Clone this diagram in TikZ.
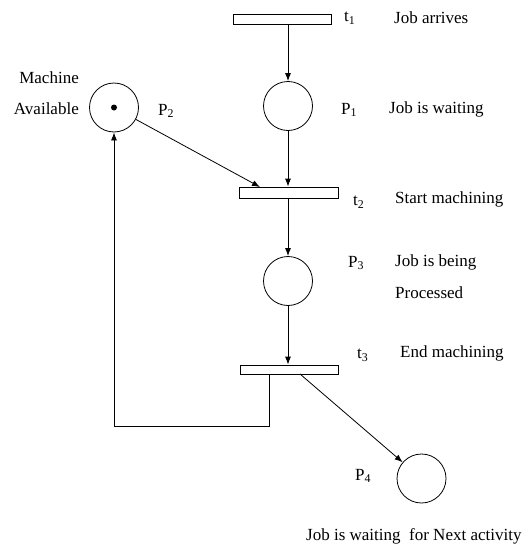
\documentclass[tikz,border=0pt]{standalone}
\usepackage{fontspec}
\setmainfont{Liberation Serif}
\usetikzlibrary{arrows.meta}
\begin{document}
\begin{tikzpicture}[x=1pt,y=-1pt,
  place/.style={draw,circle,minimum size=49pt,inner sep=0pt,line width=0.8pt},
  trans/.style={draw,rectangle,inner sep=0pt,minimum width=98pt,minimum height=10pt,line width=0.8pt},
  arr/.style={line width=0.8pt,-{Latex[length=8pt,width=6pt]}},
  lbl/.style={anchor=west,inner sep=0pt,font=\fontsize{17}{19}\selectfont}]
\useasboundingbox (0,0) rectangle (526,546);
% transitions
\node[trans] (t1) at (282,19) {};
\node[trans,minimum width=99pt,minimum height=11pt] (t2) at (288.5,192.5) {};
\node[trans,minimum height=9pt] (t3) at (289,369.5) {};
% places
\node[place] (p1) at (288,106) {};
\node[place] (p2) at (114,107.5) {};
\node[place] (p3) at (288,281) {};
\node[place] (p4) at (421.5,478.5) {};
\node[circle,fill,inner sep=0pt,minimum size=6pt] (tok) at (p2.center) {};
% connector end points
\coordinate (t2in) at (260,187);
\coordinate (t3back) at (269,374);
\coordinate (t3fwd) at (300,374);
\coordinate (ret) at (114,426);
% arcs
\draw[arr] (t1.south -| p1) -- (p1);
\draw[arr] (p1) -- (t2.north -| p1);
\draw[arr] (p2) -- (t2in);
\draw[arr] (t2.south -| p3) -- (p3);
\draw[arr] (p3) -- (t3.north -| p3);
\draw[arr] (t3back) -- (t3back |- ret) -- (ret) -- (p2);
\draw[arr] (t3fwd) -- (p4);
% labels
\node[lbl] (lt1) at (344,18) {t\textsubscript{1}};
\node[lbl] (ljob1) at (394,18) {Job arrives};
\node[lbl] (lp1) at (341,110) {P\textsubscript{1}};
\node[lbl] (ljob2) at (389,109) {Job is waiting};
\node[lbl,anchor=east] (lmach) at (79,78) {Machine};
\node[lbl,anchor=east] (lavail) at (79,109) {Available};
\node[lbl] (lp2) at (158,111) {P\textsubscript{2}};
\node[lbl] (lt2) at (353,202) {t\textsubscript{2}};
\node[lbl] (ljob3) at (395,199) {Start machining};
\node[lbl] (lp3) at (348,263) {P\textsubscript{3}};
\node[lbl] (ljob4) at (395,262) {Job is being};
\node[lbl] (ljob5) at (395,293) {Processed};
\node[lbl] (lt3) at (357,355) {t\textsubscript{3}};
\node[lbl] (ljob6) at (400,353) {End machining};
\node[lbl] (lp4) at (355,476) {P\textsubscript{4}};
\node[lbl] (ljob7) at (306,536) {Job is waiting\ \ for Next activity};
\end{tikzpicture}
\end{document}
